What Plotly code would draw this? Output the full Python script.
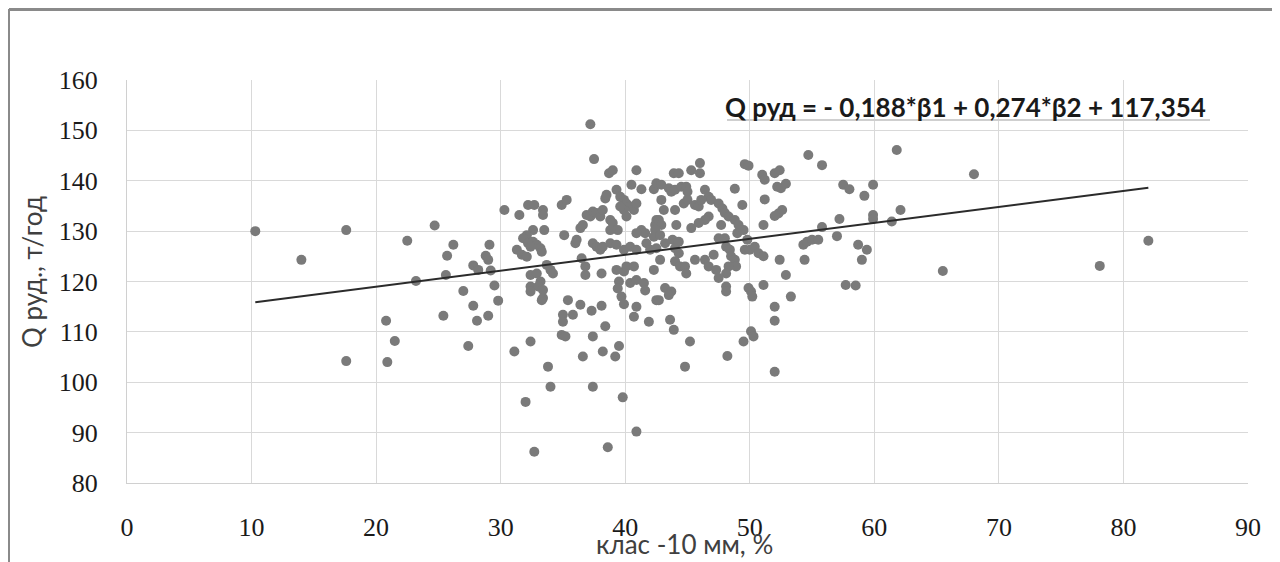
import plotly.graph_objects as go

# ---- data ----
pts = [
    # x < 30
    (10.3,130.0),(14.0,124.3),(17.6,130.2),(17.6,104.2),(20.8,112.2),(21.5,108.2),(20.9,104.0),
    (22.5,128.1),(23.2,120.1),(24.7,131.1),(26.2,127.3),(25.7,125.1),(25.6,121.3),(25.4,113.2),
    (27.0,118.1),(27.4,107.2),(27.8,123.2),(28.2,122.3),(27.8,115.2),(28.1,112.2),(28.8,125.1),
    (29.0,124.3),(29.1,127.3),(29.2,122.2),(29.5,119.2),(29.8,116.2),(29.0,113.2),
    # 30-35
    (30.3,134.2),(31.5,133.2),(32.2,135.2),(32.7,135.2),(33.4,134.2),(33.4,133.2),(34.9,135.2),
    (35.3,136.2),(33.5,130.2),(35.1,129.2),(32.6,130.2),(32.1,129.2),(31.8,128.6),(32.2,127.6),
    (32.6,127.9),(32.9,127.3),(33.2,126.6),(33.3,125.9),(32.4,126.9),(31.3,126.3),(31.7,125.3),
    (32.1,124.9),(32.4,121.3),(32.9,121.6),(33.2,120.0),(34.0,122.3),(34.2,121.6),(33.7,123.3),
    (32.4,119.0),(33.0,119.0),(32.4,118.0),(33.4,118.3),(33.4,116.7),(33.3,116.3),(32.4,108.1),
    (31.1,106.1),(33.8,103.1),(34.0,99.1),(32.0,96.1),(32.7,86.2),
    # 35-40
    (35.4,116.3),(36.4,115.4),(35.8,113.4),(35.0,113.4),(35.0,112.0),(34.9,109.4),(35.2,109.1),
    (36.0,127.6),(36.1,128.3),(36.5,124.6),(36.8,123.0),(36.8,121.3),(36.4,130.6),(36.6,131.2),
    (36.9,133.2),(37.2,132.9),(37.4,133.9),(37.7,133.6),(38.0,132.9),(38.2,134.2),(38.4,136.5),
    (38.5,137.2),(38.8,132.2),(39.0,131.6),(39.4,130.2),(38.8,130.2),(37.4,127.6),(37.7,126.9),
    (38.0,126.3),(38.2,126.9),(38.8,127.6),(39.3,127.3),(39.9,126.3),(40.4,126.9),(40.9,126.3),
    (37.2,151.2),(37.5,144.3),(38.7,141.5),(39.0,142.1),(40.9,142.1),(39.3,138.2),(39.6,136.8),
    (39.9,136.2),(40.1,135.5),(40.4,134.9),(40.7,134.2),(40.9,135.5),(39.9,134.2),(40.1,132.9),
    (39.6,134.9),(38.1,121.6),(39.3,122.3),(39.9,122.0),(40.1,123.0),(40.7,123.0),(39.5,120.0),
    (40.4,119.7),(40.9,120.3),(41.5,119.7),(39.4,118.6),(39.7,117.0),(39.9,115.5),(40.7,113.0),
    (40.9,115.0),(41.6,118.2),(41.9,112.0),(42.5,116.3),(37.3,114.2),(38.1,115.2),(38.4,111.1),
    (37.4,109.1),(36.6,105.1),(38.2,106.1),(39.2,105.1),(39.5,107.2),(39.8,97.0),(37.4,99.1),
    (38.6,87.1),(40.9,90.2),
    # 40-48
    (40.5,139.2),(41.3,138.3),(42.3,138.3),(42.5,139.5),(41.3,130.2),(41.6,129.6),(42.5,132.2),
    (42.4,131.2),(42.3,128.9),(40.9,129.6),(41.7,127.6),(42.0,126.3),(42.3,122.3),(42.9,139.2),
    (43.5,138.5),(43.7,137.8),(44.0,138.2),(44.5,138.8),(44.9,138.8),(45.0,137.8),(46.4,138.2),
    (46.7,136.8),(46.9,136.2),(43.9,141.5),(44.3,141.5),(45.3,142.1),(46.0,143.5),(46.0,141.5),
    (42.9,136.2),(43.1,134.2),(44.0,134.2),(44.7,135.5),(45.0,136.2),(45.6,135.2),(45.9,134.9),
    (46.1,136.2),(47.5,135.5),(47.8,134.5),(48.0,133.6),(48.3,132.9),(46.7,132.9),(46.4,132.2),
    (45.9,131.6),(45.3,130.6),(42.7,132.2),(42.9,131.2),(42.4,130.2),(42.8,129.2),(44.1,131.2),
    (43.2,127.6),(43.8,128.3),(44.3,127.9),(42.5,126.6),(44.0,126.6),(44.3,125.6),(42.8,124.3),
    (44.0,124.0),(44.4,123.0),(44.8,123.0),(44.9,121.6),(45.6,124.3),(46.4,124.3),(46.7,123.0),
    (47.1,125.3),(47.5,128.6),(48.0,128.6),(48.1,126.9),(48.4,126.3),(48.5,125.0),(48.8,124.3),
    (48.9,123.0),(48.3,123.0),(48.1,121.6),(47.3,122.3),(47.5,120.7),(48.8,132.2),(49.1,131.2),
    (49.0,129.6),(47.7,131.2),
    # 48-56
    (49.5,130.2),(49.8,128.3),(49.6,126.3),(50.0,126.3),(50.4,126.9),(50.7,125.6),(51.1,125.0),
    (51.1,131.2),(52.4,124.3),(52.9,121.3),(54.4,124.3),(54.3,127.3),(54.6,127.9),(55.0,128.3),
    (55.5,128.3),(55.8,130.8),(48.1,119.0),(49.9,118.7),(51.1,119.3),(43.2,118.7),(43.7,118.0),
    (43.5,117.3),(42.7,116.3),(48.1,118.0),(50.1,118.0),(50.2,117.0),(53.3,117.0),(52.0,115.0),
    (52.0,112.2),(43.6,112.4),(43.9,110.4),(45.2,108.1),(44.8,103.1),(48.2,105.2),(49.5,108.1),
    (50.1,110.1),(50.3,109.1),(52.0,102.1),(49.6,143.3),(49.9,143.0),(54.7,145.1),(55.8,143.1),
    (48.8,138.4),(51.0,141.2),(51.2,140.2),(52.0,141.5),(52.4,142.1),(52.2,138.8),(52.5,138.5),
    (52.9,139.4),(51.2,136.3),(49.4,135.2),(52.6,134.2),(52.3,133.5),(52.0,133.0),
    # > 56
    (57.5,139.2),(58.0,138.3),(59.2,137.0),(59.9,139.2),(59.9,133.2),(59.9,132.4),(61.4,131.9),
    (62.1,134.2),(57.2,132.4),(57.0,129.0),(58.7,127.3),(59.4,126.3),(59.0,124.3),(57.7,119.3),
    (58.5,119.2),(61.8,146.1),(65.5,122.1),(68.0,141.3),(78.1,123.1),(82.0,128.1),
]
x_class = [p[0] for p in pts]
q_ore = [p[1] for p in pts]

trend_x = [10.3, 82.0]
trend_y = [115.9, 138.6]

x_ticks = [0, 10, 20, 30, 40, 50, 60, 70, 80, 90]
y_ticks = [80, 90, 100, 110, 120, 130, 140, 150, 160]

equation = "Q руд = - 0,188*β1 + 0,274*β2 + 117,354"
x_title = "клас -10 мм, %"
y_title = "Q руд., т/год"

# ---- figure ----
fig = go.Figure()
fig.add_trace(go.Scatter(
    x=x_class, y=q_ore, mode="markers",
    marker=dict(color="#7a7a7a", size=10, line=dict(width=0)),
    showlegend=False, hoverinfo="x+y"))
fig.add_trace(go.Scatter(
    x=trend_x, y=trend_y, mode="lines",
    line=dict(color="#2b2b2b", width=2),
    showlegend=False, hoverinfo="skip"))

# page offset of the figure (default body margin)
OFF = 8
W, H = 1272, 554
# plot area in page pixels: x 127..1248, y 80..483
L = 127 - OFF
R = (OFF + W) - 1248
T = 80 - OFF
B = (OFF + H) - 483
pw, ph = W - L - R, H - T - B

def px(xpage):
    return (xpage - OFF - L) / pw

def py(ypage):
    return (OFF + H - B - ypage) / ph

tick_font = dict(family="Liberation Serif, DejaVu Serif, serif", size=26, color="#1a1a1a")
title_font = dict(family="Lato, Open Sans, sans-serif", size=26, color="#404040")

fig.update_layout(
    width=W, height=H,
    margin=dict(l=L, r=R, t=T, b=B, autoexpand=False),
    paper_bgcolor="white", plot_bgcolor="white",
    xaxis=dict(range=[0, 90], tickvals=x_ticks, showgrid=True, gridcolor="#d9d9d9", gridwidth=1,
               zeroline=False, showline=True, linecolor="#d0d0d0", linewidth=1, mirror=False,
               ticks="", tickfont=tick_font, ticklabelstandoff=21, fixedrange=True),
    yaxis=dict(range=[80, 160], tickvals=y_ticks, showgrid=True, gridcolor="#d9d9d9", gridwidth=1,
               zeroline=False, showline=True, linecolor="#d0d0d0", linewidth=1,
               ticks="", tickfont=tick_font, ticklabelstandoff=23, fixedrange=True),
    shapes=[
        # equation box covering the grid
        dict(type="rect", xref="paper", yref="paper", x0=px(727), x1=px(1210), y0=py(127), y1=py(81),
             fillcolor="white", line=dict(width=0), layer="between"),
        dict(type="line", xref="paper", yref="paper", x0=px(727), x1=px(1210), y0=py(120), y1=py(120),
             line=dict(color="#cfcfcf", width=2)),
        # outer frame
        dict(type="line", xref="paper", yref="paper", x0=px(9), x1=px(1277), y0=py(9.5), y1=py(9.5),
             line=dict(color="#8a8a8a", width=3)),
        dict(type="line", xref="paper", yref="paper", x0=px(9), x1=px(9), y0=py(9), y1=py(562),
             line=dict(color="#8a8a8a", width=2)),
        dict(type="line", xref="paper", yref="paper", x0=px(1274), x1=px(1274), y0=py(9), y1=py(562),
             line=dict(color="#8a8a8a", width=2)),
    ],
    annotations=[
        dict(text="<b>" + equation + "</b>", xref="paper", yref="paper", x=px(965), y=py(107),
             xanchor="center", yanchor="middle", showarrow=False,
             font=dict(family="Lato, Open Sans, sans-serif", size=26, color="#1a1a1a")),
        dict(text=x_title, xref="paper", yref="paper", x=px(684), y=py(544),
             xanchor="center", yanchor="middle", showarrow=False, font=title_font),
        dict(text=y_title, xref="paper", yref="paper", x=px(32), y=py(272), textangle=-90,
             xanchor="center", yanchor="middle", showarrow=False, font=title_font),
    ],
)

fig.write_html("out.html")
